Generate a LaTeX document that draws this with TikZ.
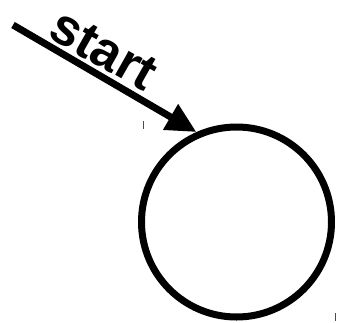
\documentclass[tikz,border=0pt]{standalone}
\usepackage{fontspec}
\setmainfont{Liberation Sans}
\usetikzlibrary{arrows.meta}
\begin{document}
\begin{tikzpicture}[x=1pt,y=-1pt,
  state/.style={draw,circle,line width=7pt,minimum size=190pt,inner sep=0pt},
  startarrow/.style={line width=7pt,-{Triangle[length=30pt,width=28pt]}},
  lbl/.style={font=\fontsize{52}{52}\selectfont\bfseries,rotate=-29.5,inner sep=0pt},
  tick/.style={draw=black!70,line width=0.8pt}]
\useasboundingbox (0,0) rectangle (343,322);
\node[state] (q) at (236.5,222) {};
\coordinate (s) at (13,25);
\draw[startarrow] (s) -- (q.114);
\node[lbl] (t) at (104,50) {start};
\coordinate (m1a) at (143.5,121);
\coordinate (m1b) at (143.5,129);
\coordinate (m2a) at (335,313);
\coordinate (m2b) at (335,321);
\draw[tick] (m1a) -- (m1b);
\draw[tick] (m2a) -- (m2b);
\end{tikzpicture}
\end{document}
